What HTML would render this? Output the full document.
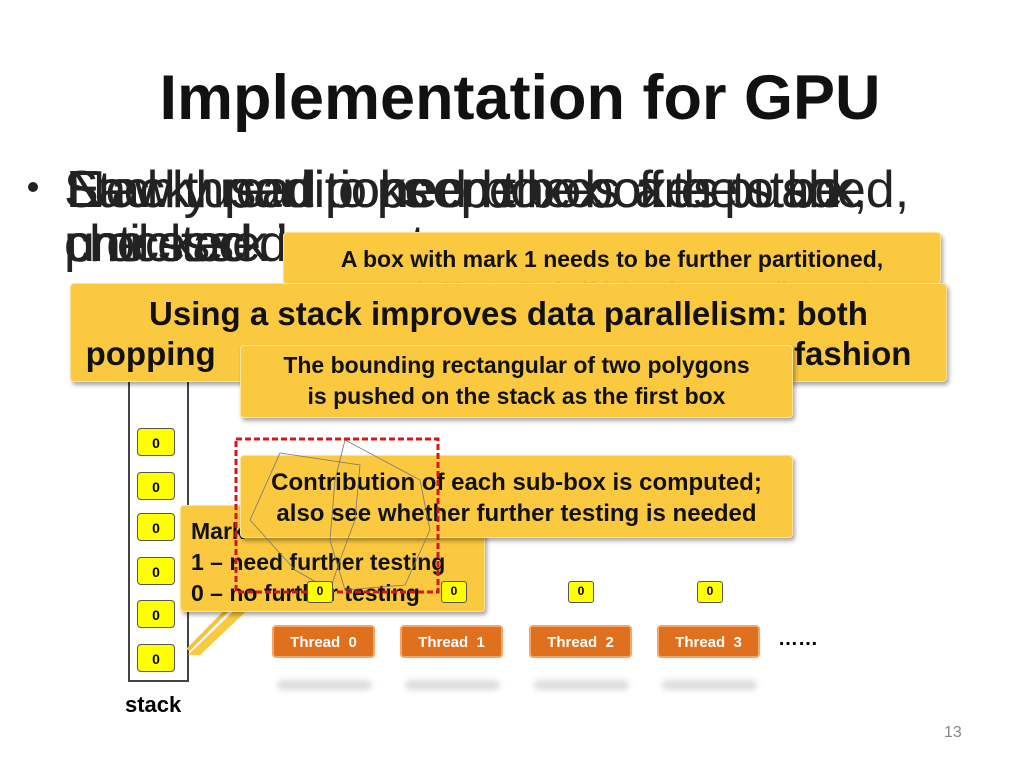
<!DOCTYPE html>
<html><head><meta charset="utf-8"><style>
body{margin:0;width:1024px;height:768px;background:#fff;position:relative;overflow:hidden;font-family:"Liberation Sans",sans-serif}
.a{position:absolute}
.t{white-space:nowrap}
.y{position:absolute;background:#fbc93f;border:1px solid #fde29a;border-radius:4px;box-shadow:2px 3px 4px rgba(0,0,0,.35);font-weight:bold;color:#111;text-align:center;white-space:nowrap}
.c{position:absolute;width:38px;height:28px;background:#ffff00;border:1.5px solid #555;border-radius:4px;font-weight:bold;font-size:14px;line-height:28px;text-align:center;box-sizing:border-box}
.s{position:absolute;width:26px;height:22px;background:#ffff00;border:1.5px solid #555;border-radius:3px;font-size:12px;font-weight:bold;line-height:19px;text-align:center;box-sizing:border-box}
.th{position:absolute;width:103px;height:33px;background:#e0701e;border:2px solid #f4a66a;border-radius:4px;color:#fff;font-weight:bold;font-size:15px;line-height:31px;text-align:center;box-sizing:border-box}
.sh{position:absolute;width:95px;height:10px;background:#ddd;border-radius:5px;filter:blur(3px)}
.bl{font-size:52px;color:#222;letter-spacing:-1px}
</style></head><body>
<div class="a t" style="left:0;width:1040px;top:62px;text-align:center;font-size:63px;font-weight:bold;color:#111">Implementation for GPU</div>
<div class="a" style="left:28px;top:182px;width:10px;height:10px;border-radius:5px;background:#222"></div>
<div class="a t bl" style="left:64px;top:160px">Stack used to keep the boxes to be</div>
<div class="a t bl" style="left:66px;top:160px;letter-spacing:-3px">Each thread pops one box off the stack,</div>
<div class="a t bl" style="left:68px;top:160px;letter-spacing:0px">Newly partitioned boxes are pushed,</div>
<div class="a t bl" style="left:64px;top:214px">checked</div>
<div class="a t bl" style="left:66px;top:214px;letter-spacing:-3px">until stack is empty</div>
<div class="a t bl" style="left:64px;top:214px;letter-spacing:-2px">processed</div>
<div class="y" style="left:283px;top:232px;width:656px;height:50px;font-size:23px;line-height:52px">A box with mark 1 needs to be further partitioned,<div style="color:#e7bd55;line-height:10px">or apply Monte Carlo if it has been small enough</div></div>
<div class="a" style="left:128px;top:300px;width:57px;height:380px;border:2px solid #444;border-top:none"></div>
<div class="y" style="left:70px;top:283px;width:877px;height:99px;font-size:33px;line-height:40px;padding-top:10px;box-sizing:border-box">Using a stack improves data parallelism: both<br><span style="margin-left:-20px">popping </span><span style="display:inline-block;width:560px"></span> fashion</div>
<div class="y" style="left:240px;top:345px;width:553px;height:73px;font-size:23px;line-height:31px;padding-top:4px;box-sizing:border-box">The bounding rectangular of two polygons<br>is pushed on the stack as the first box</div>
<div class="c" style="left:137px;top:428px">0</div>
<div class="c" style="left:137px;top:472px">0</div>
<div class="c" style="left:137px;top:513px">0</div>
<div class="c" style="left:137px;top:557px">0</div>
<div class="c" style="left:137px;top:600px">0</div>
<div class="c" style="left:137px;top:644px">0</div>
<div class="a t" style="left:125px;top:692px;font-size:22px;font-weight:bold">stack</div>
<svg class="a" style="left:0;top:0" width="1024" height="768"><polygon points="245,600 188,655 200,655 258,600" fill="#fbc93f"/><line x1="245" y1="592" x2="188" y2="650" stroke="#f6c140" stroke-width="4"/></svg>
<div class="y" style="left:180px;top:505px;width:305px;height:107px;font-size:23px;line-height:31px;text-align:left;padding:10px 0 0 10px;box-sizing:border-box">Mark<br>1 – need further testing<br>0 – no further testing</div>
<div class="y" style="left:240px;top:455px;width:553px;height:83px;font-size:24px;line-height:31px;padding-top:11px;box-sizing:border-box">Contribution of each sub-box is computed;<br>also see whether further testing is needed</div>
<svg class="a" style="left:0;top:0" width="1024" height="768">
<polygon points="280,453 360,465 355,520 340,560 330,590 295,570 250,520" fill="none" stroke="#777" stroke-width="0.8"/>
<polygon points="345,440 420,480 430,530 405,585 345,590 330,540 335,480" fill="none" stroke="#777" stroke-width="0.8"/>
<rect x="236" y="439" width="202" height="153" fill="none" stroke="#d01818" stroke-width="3" stroke-dasharray="6,3"/>
</svg>
<div class="s" style="left:307px;top:581px">0</div>
<div class="s" style="left:441px;top:581px">0</div>
<div class="s" style="left:568px;top:581px">0</div>
<div class="s" style="left:697px;top:581px">0</div>
<div class="th" style="left:272px;top:625px">Thread&nbsp; 0</div>
<div class="th" style="left:400px;top:625px">Thread&nbsp; 1</div>
<div class="th" style="left:529px;top:625px">Thread&nbsp; 2</div>
<div class="th" style="left:657px;top:625px">Thread&nbsp; 3</div>
<div class="sh" style="left:277px;top:680px"></div>
<div class="sh" style="left:405px;top:680px"></div>
<div class="sh" style="left:534px;top:680px"></div>
<div class="sh" style="left:662px;top:680px"></div>
<div class="a t" style="left:778px;top:628px;font-size:20px;font-weight:bold">……</div>
<div class="a t" style="left:944px;top:724px;font-size:16px;color:#888">13</div>
</body></html>
